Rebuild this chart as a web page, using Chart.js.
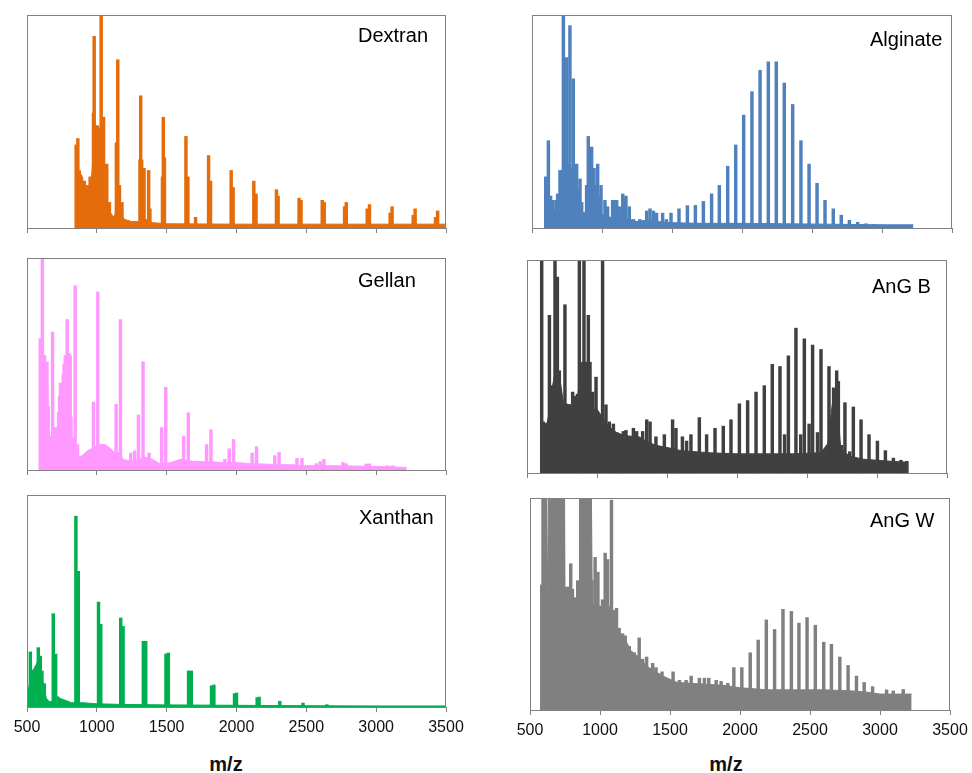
<!DOCTYPE html>
<html>
<head>
<meta charset="utf-8">
<script src="https://cdn.jsdelivr.net/npm/chart.js@4.4.0/dist/chart.umd.min.js"></script>
<style>
  body { margin: 0; background: #fff; width: 972px; height: 773px; position: relative; overflow: hidden;
         font-family: Arial, "Liberation Sans", sans-serif; }
  canvas { position: absolute; }
  .mz { position: absolute; width: 80px; text-align: center; font-weight: bold; font-size: 20px; line-height: 24px; color: #111; }
</style>
</head>
<body>
<div class="mz" style="left:186px; top:752px;">m/z</div>
<div class="mz" style="left:686px; top:752px;">m/z</div>
<script>
'use strict';

/* ── Data (m/z, relative intensity %) ─────────────────── */
const X_TICKS = [500, 1000, 1500, 2000, 2500, 3000, 3500];

const DEXTRAN_PEAKS = [[852,39],[864,42],[874,27],[882,25],[890,24],[900,22],[910,22],[922,20],[935,18],[944,20],
  [952,24],[976,54],[981,90],[1005,48],[1014,46],[1031,100],[1048,52],[1071,30],[1090,12],[1140,40],[1150,79],
  [1162,20],[1180,12],[1309,32],[1314,62],[1321,32],[1338,28],[1371,27],[1380,9],[1470,24],[1476,52],[1484,33],
  [1638,43],[1652,24],[1707,5],[1800,34],[1814,22],[1962,27],[1976,19],[2124,22],[2140,16],[2286,18],[2298,15],
  [2448,14],[2462,13],[2614,13],[2628,12],[2774,10],[2786,12],[2936,9],[2952,11],[3100,7],[3114,10],[3265,6],
  [3279,9],[3425,5],[3440,8]];
const DEXTRAN_BASE = [[845,38],[855,30],[870,26],[885,23],[900,20],[915,18],[930,17],[945,18],[960,22],[975,35],
  [985,48],[1000,48],[1020,46],[1040,50],[1052,22],[1065,12],[1080,9],[1100,7],[1120,5],[1140,8],[1160,12],[1175,6],
  [1200,4],[1250,3],[1300,3],[1330,6],[1350,4],[1400,2.5],[1500,2],[2000,1.8],[2500,1.8],[3000,1.8],[3500,1.8]];

const ALGINATE_PEAKS = [[598,24],[617,41],[633,15],[647,13],[671,13],[683,16],[700,27],[712,27],[724,100],[736,40],
  [748,80],[760,30],[771,95],[783,28],[795,70],[807,25],[819,30],[831,18],[843,23],[855,12],[890,20],[902,43],
  [914,30],[926,38],[943,28],[955,20],[969,30],[981,15],[993,20],[1021,13],[1040,10],[1076,13],[1090,13],[1105,13],
  [1123,10],[1148,16],[1160,14],[1171,15],[1195,10],[1225,4],[1270,4],[1319,8],[1343,9],[1367,8],[1390,7],[1433,7],
  [1460,4],[1493,7],[1550,9],[1610,10.5],[1667,10.6],[1724,12.5],[1783,16],[1838,20],[1898,29],[1955,39],[2012,53],
  [2071,64],[2129,74],[2188,78],[2245,78],[2302,68],[2362,58],[2421,41],[2479,30],[2536,21],[2593,13],[2652,9],
  [2709,6],[2767,3.6],[2826,2.7],[2886,2],[2943,1.6],[3000,1.4]];
const ALGINATE_BASE = [[593,20],[605,10],[620,9],[640,8],[660,8],[680,10],[700,14],[720,20],[740,18],[760,18],
  [780,14],[800,12],[830,9],[860,7],[900,8],[940,9],[980,7],[1020,6],[1060,5],[1100,5],[1150,5],[1200,4],[1250,3],
  [1300,3.5],[1400,3],[1500,2.5],[1700,2.2],[2000,2.2],[2300,2],[2600,1.8],[3000,1.5],[3224,1.5]];

const GELLAN_PEAKS = [[595,62],[610,100],[626,54],[643,51],[652,30],[667,16],[683,65],[700,20],[714,20],[726,27],
  [733,35],[740,41],[745,38],[750,32],[760,45],[765,50],[774,54],[781,52],[788,71],[795,52],[800,55],[805,45],
  [809,54],[815,25],[826,15],[845,87],[862,12],[976,32],[1007,84],[1138,31],[1169,71],[1243,8],[1271,9],[1298,26],
  [1331,51],[1374,8],[1464,20],[1493,39],[1600,5],[1621,16],[1655,27],[1786,12],[1817,19],[1917,5],[1948,10],
  [1979,14.4],[2112,8],[2143,11],[2274,6.8],[2305,8.3],[2433,5.5],[2469,5.5],[2571,3],[2600,4],[2626,5],[2762,3.6],
  [2786,3],[2929,2.8],[2952,2.9],[3083,2],[3119,2]];
const GELLAN_BASE = [[590,45],[600,50],[615,48],[630,40],[645,30],[655,14],[670,12],[700,12],[715,16],[730,22],
  [750,30],[770,38],[790,38],[805,25],[820,12],[835,8],[870,6],[900,7],[930,9],[960,10],[990,11],[1020,12],[1060,12],
  [1100,10],[1130,8],[1160,8],[1190,5],[1250,4],[1300,5],[1350,6],[1400,5],[1450,3],[1500,3],[1550,4],[1600,5],
  [1700,4],[1800,4],[1900,3.5],[2000,3.5],[2100,3],[2200,2.8],[2300,2.5],[2400,2.5],[2500,2],[2700,2],[2900,1.8],
  [3100,1.5],[3219,1.2]];

const ANGB_PEAKS = [[605,130],[617,24],[660,74],[676,41],[700,130],[717,92],[731,48],[771,79],[795,32],[826,38],
  [843,36],[860,37],[874,130],[907,130],[921,52],[938,74],[950,52],[969,38],[993,45],[1017,26],[1040,130],[1064,32],
  [1088,24],[1117,23],[1140,19],[1188,19.5],[1207,20],[1260,21],[1283,19.5],[1326,19.5],[1355,25],[1379,24],
  [1421,17],[1481,18],[1540,25],[1564,21],[1610,17],[1640,15],[1671,18],[1731,26],[1783,18],[1843,21],[1902,22],
  [1957,25],[2017,32.5],[2076,34],[2136,38],[2195,41],[2252,51],[2307,50],[2340,18],[2367,55],[2421,68],[2455,18],
  [2481,63],[2515,23],[2540,60],[2575,19],[2600,58],[2657,50],[2690,40],[2712,48],[2724,43],[2745,13],[2771,33],
  [2805,10],[2831,31],[2886,25],[2943,18],[3003,15],[3060,10.5],[3117,7],[3171,6],[3212,5.5]];
const ANGB_BASE = [[598,24],[640,23],[660,28],[680,40],[700,47],[720,49],[740,42],[760,33],[800,32],[840,32],
  [860,34],[875,45],[890,52],[910,52],[930,45],[950,36],[970,30],[1000,30],[1030,27],[1060,24],[1100,21],[1140,19],
  [1200,17.5],[1300,17],[1350,15],[1420,13],[1500,12],[1600,10.5],[1700,10],[1800,9.5],[2000,9],[2200,9],[2400,9],
  [2600,9.5],[2650,14],[2680,32],[2700,38],[2720,30],[2740,12],[2800,8],[2900,6.5],[3000,6],[3100,5.5],[3226,5]];

const XANTHAN_PEAKS = [[505,5.5],[524,26],[540,14],[557,17],[569,18],[581,28],[595,24],[607,17],[624,11],[688,44],
  [705,25],[850,90],[867,64],[1012,49.5],[1028,39],[1171,42],[1188,38],[1333,31],[1350,31],[1495,25],[1512,25.5],
  [1657,17],[1676,17],[1821,10],[1838,10.4],[1986,6.3],[2000,6.6],[2148,4.4],[2162,4.7],[2310,2.7],[2476,1.9],
  [2647,1.1]];
const XANTHAN_BASE = [[500,5],[510,8],[520,12],[535,17],[550,18],[565,20],[580,22],[595,18],[610,13],[625,7],
  [640,4],[660,2.5],[700,3],[720,5],[740,4],[780,3],[820,2],[900,2],[1000,1.5],[1200,1.2],[1500,1],[2000,0.8],
  [2500,0.6],[3000,0.5],[3500,0.5]];

const ANGW_PEAKS = [[584,59],[593,130],[612,130],[631,44],[648,130],[665,130],[684,130],[703,130],[720,130],
  [736,130],[755,58],[775,58],[791,69],[803,57],[822,53],[841,61],[863,130],[887,130],[911,130],[927,130],[942,61],
  [965,72],[985,65],[999,49],[1018,52],[1037,74],[1054,71],[1066,49],[1082,99],[1101,47],[1118,48],[1137,38.6],
  [1161,36],[1180,35],[1209,30],[1245,27],[1280,34],[1304,24],[1333,25],[1376,22],[1400,20],[1443,18],[1522,18],
  [1567,14],[1615,14],[1651,16],[1710,15],[1746,15],[1777,15],[1830,14],[1865,13.5],[1913,12.6],[1956,20],[2013,20],
  [2073,27],[2130,33],[2188,42.5],[2247,38],[2307,47.5],[2367,46.5],[2421,41],[2479,43.6],[2538,40],[2598,32],
  [2653,31],[2713,25],[2772,21],[2832,16],[2887,13],[2947,11],[3047,9.5],[3095,9],[3166,9.7]];
const ANGW_BASE = [[584,44],[600,44],[620,44],[640,130],[745,130],[750,52],[780,52],[800,53],[820,50],[850,52],
  [855,130],[935,130],[945,50],[980,50],[1010,48],[1040,45],[1070,42],[1100,40],[1130,37],[1160,34],[1190,32],
  [1220,28],[1260,26],[1300,23],[1350,20],[1400,18],[1450,16],[1500,14.5],[1550,13],[1650,12.6],[1800,12],
  [1900,11.5],[2000,10.5],[2100,10],[2200,9.5],[2400,9.5],[2600,9.5],[2800,9],[2900,8.5],[3000,7.5],[3100,7.5],
  [3226,7.5]];

/* ── Layout of the six panels (plot-area pixels) ──────── */
const PANELS = [
  { name: 'Dextran',  peaks: DEXTRAN_PEAKS,  base: DEXTRAN_BASE,  color: '#E46C0A', left: 27,  right: 446, top: 15,  bottom: 228, labels: false, dx: 331, dy: 27 },
  { name: 'Alginate', peaks: ALGINATE_PEAKS, base: ALGINATE_BASE, color: '#4F81BD', left: 532, right: 952, top: 15,  bottom: 228, labels: false, dx: 338, dy: 31 },
  { name: 'Gellan',   peaks: GELLAN_PEAKS,   base: GELLAN_BASE,   color: '#FF99FF', left: 27,  right: 446, top: 258, bottom: 470, labels: false, dx: 331, dy: 29 },
  { name: 'AnG B',    peaks: ANGB_PEAKS,     base: ANGB_BASE,     color: '#404040', left: 527, right: 947, top: 260, bottom: 473, labels: false, dx: 345, dy: 33 },
  { name: 'Xanthan',  peaks: XANTHAN_PEAKS,  base: XANTHAN_BASE,  color: '#00B050', left: 27,  right: 446, top: 495, bottom: 707, labels: true,  dx: 332, dy: 29 },
  { name: 'AnG W',    peaks: ANGW_PEAKS,     base: ANGW_BASE,     color: '#808080', left: 530, right: 950, top: 498, bottom: 710, labels: true,  dx: 340, dy: 29 },
];

Chart.defaults.font.family = 'Arial, "Liberation Sans", sans-serif';

const PAD = 30, TOP_PAD = 6;

/* frame round the plot area + the sample name */
const framePlugin = {
  id: 'frame',
  afterDraw(chart, args, opts) {
    const { ctx, chartArea: a } = chart;
    ctx.save();
    ctx.strokeStyle = '#808080';
    ctx.lineWidth = 1;
    ctx.strokeRect(a.left + 0.5, a.top + 0.5, a.right - a.left - 1, a.bottom - a.top);
    ctx.fillStyle = '#000';
    ctx.font = '20px Arial, "Liberation Sans", sans-serif';
    ctx.textBaseline = 'alphabetic';
    ctx.fillText(opts.text, a.left + opts.dx, a.top + opts.dy);
    ctx.restore();
  }
};

function makePanel(p) {
  const axisH = p.labels ? 34 : 7;
  const w = p.right - p.left + 2 * PAD;
  const h = p.bottom - p.top + TOP_PAD + axisH;
  const canvas = document.createElement('canvas');
  canvas.width = w;
  canvas.height = h;
  canvas.style.left = (p.left - PAD) + 'px';
  canvas.style.top = (p.top - TOP_PAD) + 'px';
  canvas.style.width = w + 'px';
  canvas.style.height = h + 'px';
  document.body.appendChild(canvas);

  new Chart(canvas, {
    type: 'bar',
    data: {
      datasets: [
        {
          type: 'line',
          data: p.base.map(([x, y]) => ({ x, y })),
          borderColor: p.color,
          backgroundColor: p.color,
          borderWidth: 1,
          pointRadius: 0,
          tension: 0,
          fill: 'origin',
          order: 2,
        },
        {
          type: 'bar',
          data: p.peaks.map(([x, y]) => ({ x, y })),
          backgroundColor: p.color,
          borderWidth: 0,
          barThickness: 2.8,
          order: 1,
        }
      ]
    },
    plugins: [framePlugin],
    options: {
      responsive: false,
      animation: false,
      events: [],
      layout: { padding: { left: PAD, right: PAD, top: TOP_PAD, bottom: 0 } },
      plugins: {
        legend: { display: false },
        tooltip: { enabled: false },
        frame: { text: p.name, dx: p.dx, dy: p.dy },
      },
      scales: {
        x: {
          type: 'linear',
          min: X_TICKS[0],
          max: X_TICKS[X_TICKS.length - 1],
          offset: false,
          afterBuildTicks: s => { s.ticks = X_TICKS.map(v => ({ value: v })); },
          afterFit: s => { s.height = axisH; },
          grid: { offset: false, drawOnChartArea: false, drawTicks: true, tickLength: 5, color: '#808080' },
          border: { color: '#808080' },
          ticks: { display: p.labels, autoSkip: false, maxRotation: 0, padding: 6, color: '#111',
                   font: { size: 16 }, callback: v => String(v) },
        },
        y: { display: false, min: 0, max: 100 }
      }
    }
  });
}

PANELS.forEach(makePanel);
</script>
</body>
</html>
